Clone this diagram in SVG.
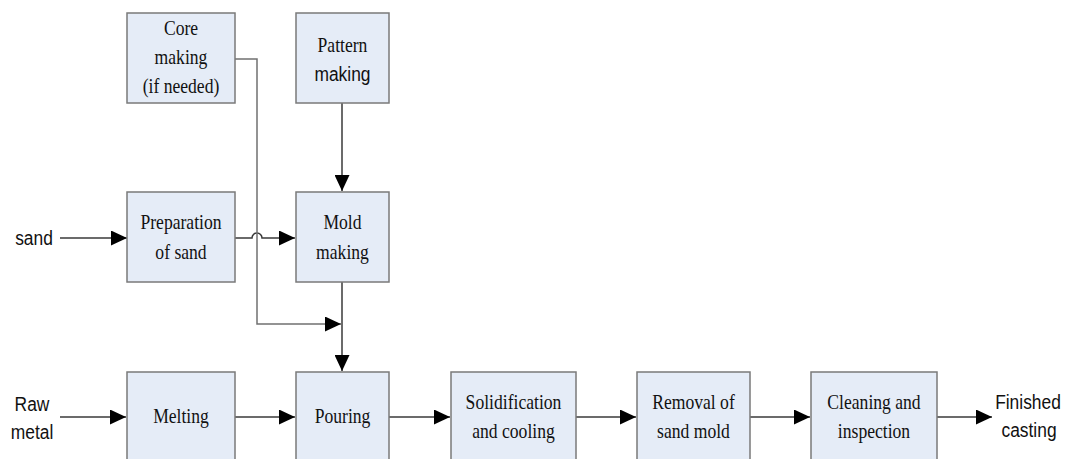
<svg xmlns="http://www.w3.org/2000/svg" width="1067" height="459" viewBox="0 0 1067 459">
<style>
.box{fill:#E5ECF7;stroke:#7A7A7A;stroke-width:1.5}
.t{font-family:"Liberation Serif","Times New Roman",serif;font-size:20px;fill:#111;text-anchor:middle}
.s{font-family:"Liberation Sans",Arial,sans-serif;font-size:20px;fill:#111;text-anchor:middle}
.c{fill:none;stroke:#3A3A3A;stroke-width:1.5}
.g{fill:none;stroke:#707070;stroke-width:1.5}
</style>
<defs>
<marker id="ah" markerUnits="userSpaceOnUse" markerWidth="17" markerHeight="15" refX="16" refY="7.5" orient="auto">
<path d="M0,0 L16,7.5 L0,15 Z" fill="#000"/>
</marker>
</defs>
<rect width="1067" height="459" fill="#fff"/>
<g id="connectors">
<path class="c" d="M342,103 V191" marker-end="url(#ah)"/>
<path class="c" d="M60,238 H127" marker-end="url(#ah)"/>
<path class="c" d="M235,238 H252 A5,5 0 0 1 262,238 H295" marker-end="url(#ah)"/>
<path class="g" d="M235,59 H257 V324 H341" marker-end="url(#ah)"/>
<path class="c" d="M342,282 V371" marker-end="url(#ah)"/>
<path class="c" d="M60,417 H126" marker-end="url(#ah)"/>
<path class="c" d="M235,417 H295" marker-end="url(#ah)"/>
<path class="c" d="M389,417 H450" marker-end="url(#ah)"/>
<path class="c" d="M576,417 H636" marker-end="url(#ah)"/>
<path class="c" d="M750,417 H810" marker-end="url(#ah)"/>
<path class="c" d="M937,417 H992" marker-end="url(#ah)"/>
</g>
<g id="core">
<rect class="box" x="127" y="13" width="108" height="90"/>
<text class="t" transform="translate(181,35) scale(0.88,1)">Core</text>
<text class="t" transform="translate(181,64) scale(0.88,1)">making</text>
<text class="t" transform="translate(181,93) scale(0.88,1)">(if needed)</text>
</g>
<g id="pattern">
<rect class="box" x="296" y="13" width="93" height="90"/>
<text class="t" transform="translate(342.5,52) scale(0.88,1)">Pattern</text>
<text class="s" transform="translate(342.5,81) scale(0.87,1)">making</text>
</g>
<g id="prep">
<rect class="box" x="127" y="192" width="108" height="90"/>
<text class="t" transform="translate(181,229) scale(0.88,1)">Preparation</text>
<text class="t" transform="translate(181,259) scale(0.88,1)">of sand</text>
</g>
<g id="mold">
<rect class="box" x="296" y="192" width="93" height="90"/>
<text class="t" transform="translate(342.5,229) scale(0.88,1)">Mold</text>
<text class="t" transform="translate(342.5,259) scale(0.88,1)">making</text>
</g>
<g id="melting">
<rect class="box" x="127" y="372" width="108" height="92"/>
<text class="t" transform="translate(181,423) scale(0.88,1)">Melting</text>
</g>
<g id="pouring">
<rect class="box" x="296" y="372" width="93" height="92"/>
<text class="t" transform="translate(342.5,423) scale(0.88,1)">Pouring</text>
</g>
<g id="solid">
<rect class="box" x="451" y="372" width="125" height="92"/>
<text class="t" transform="translate(513.5,409) scale(0.88,1)">Solidification</text>
<text class="t" transform="translate(513.5,438) scale(0.88,1)">and cooling</text>
</g>
<g id="removal">
<rect class="box" x="637" y="372" width="113" height="92"/>
<text class="t" transform="translate(693.5,409) scale(0.88,1)">Removal of</text>
<text class="t" transform="translate(693.5,438) scale(0.88,1)">sand mold</text>
</g>
<g id="cleaning">
<rect class="box" x="811" y="372" width="126" height="92"/>
<text class="t" transform="translate(874,409) scale(0.88,1)">Cleaning and</text>
<text class="t" transform="translate(874,438) scale(0.88,1)">inspection</text>
</g>
<g id="sand">
<text class="s" transform="translate(34,245) scale(0.87,1)">sand</text>
</g>
<g id="raw">
<text class="s" transform="translate(32,411) scale(0.87,1)">Raw</text>
<text class="s" transform="translate(32,439) scale(0.87,1)">metal</text>
</g>
<g id="finished">
<text class="s" transform="translate(1028,409) scale(0.87,1)">Finished</text>
<text class="s" transform="translate(1029,437) scale(0.87,1)">casting</text>
</g>
</svg>
